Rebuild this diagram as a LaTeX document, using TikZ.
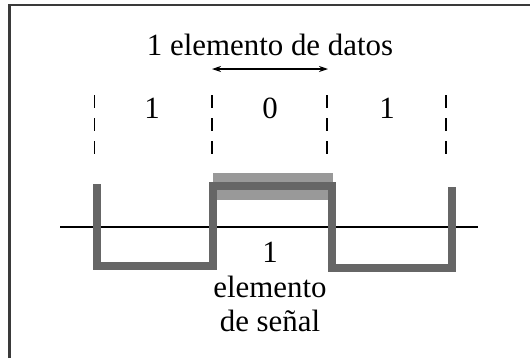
\documentclass[tikz,border=0pt]{standalone}
\usepackage{fontspec}
\setmainfont{Liberation Serif}
\usetikzlibrary{arrows.meta}
\definecolor{sigdark}{HTML}{666666}
\definecolor{siglight}{HTML}{999999}
\definecolor{framec}{HTML}{3A3A3A}
\begin{document}
\begin{tikzpicture}[x=1bp,y=-1bp,
  lbl/.style={inner sep=0pt,font=\fontsize{31}{35}\selectfont},
  bitsep/.style={line width=1.3bp,dash pattern=on 13bp off 10bp},
  sigline/.style={draw=sigdark,line width=8bp,line cap=butt,line join=miter},
  axisline/.style={line width=1.2bp,black}]
\useasboundingbox (0,0) rectangle (530,358);
% frame (top and left only visible)
\draw[framec,line width=2.2bp] (9.5,358) -- (9.5,5.3) -- (530,5.3);
% title and arrow
\node[lbl] (title) at (270,45) {1 elemento de datos};
\coordinate (al) at (212,69);
\coordinate (ar) at (328,69);
\draw[line width=1.1bp,{Stealth[length=9bp,width=6bp]}-{Stealth[length=9bp,width=6bp]}] (al) -- (ar);
% bit separators
\foreach \n/\xx in {s1/94.5,s2/212,s3/327,s4/446}{
  \coordinate (\n t) at (\xx,95);
  \coordinate (\n b) at (\xx,156);
  \draw[bitsep] (\n t) -- (\n b);
}
% bit labels
\node[lbl] (b1) at (152,108) {1};
\node[lbl] (b2) at (270,108) {0};
\node[lbl] (b3) at (387,108) {1};
% light bar
\fill[siglight] (213,173) rectangle (333,200);
% axis
\coordinate (axl) at (60,227);
\coordinate (axr) at (478,227);
\draw[axisline] (axl) -- (axr);
% signal
\draw[sigline] (96.5,184) -- (96.5,266) -- (213,266) -- (213,186) -- (331.5,186) -- (331.5,268) -- (451.5,268) -- (451.5,187);
% signal element label
\node[lbl,align=center] (sig) at (270,287) {1\\elemento\\de señal};
\end{tikzpicture}
\end{document}
